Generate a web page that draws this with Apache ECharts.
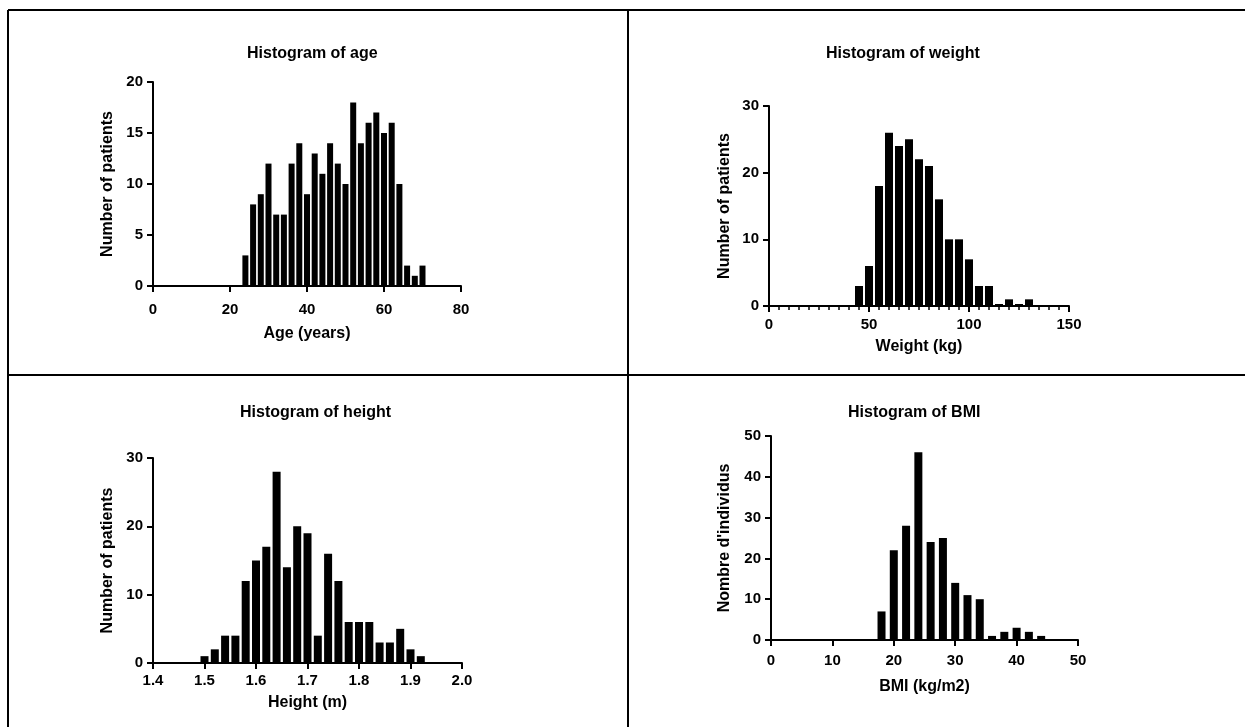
<!DOCTYPE html>
<html>
<head>
<meta charset="utf-8">
<title>Histograms</title>
<script src="https://cdn.jsdelivr.net/npm/echarts@6/dist/echarts.min.js"></script>
<style>
  html, body { margin: 0; padding: 0; background: #fff; }
  #chart { width: 1245px; height: 727px; }
</style>
</head>
<body>
<div id="chart"></div>
<script>
// 数据：各直方图的组中值和人数
const ageBins = [24, 26, 28, 30, 32, 34, 36, 38, 40, 42, 44, 46, 48, 50, 52, 54, 56, 58, 60, 62, 64, 66, 68, 70];
const ageCounts = [3, 8, 9, 12, 7, 7, 12, 14, 9, 13, 11, 14, 12, 10, 18, 14, 16, 17, 15, 16, 10, 2, 1, 2];

const weightBins = [45, 50, 55, 60, 65, 70, 75, 80, 85, 90, 95, 100, 105, 110, 115, 120, 125, 130];
const weightCounts = [3, 6, 18, 26, 24, 25, 22, 21, 16, 10, 10, 7, 3, 3, 0, 1, 0, 1];

const heightBins = [1.50, 1.52, 1.54, 1.56, 1.58, 1.60, 1.62, 1.64, 1.66, 1.68, 1.70, 1.72, 1.74, 1.76, 1.78, 1.80, 1.82, 1.84, 1.86, 1.88, 1.90, 1.92];
const heightCounts = [1, 2, 4, 4, 12, 15, 17, 28, 14, 20, 19, 4, 16, 12, 6, 6, 6, 3, 3, 5, 2, 1];

const bmiBins = [18, 20, 22, 24, 26, 28, 30, 32, 34, 36, 38, 40, 42, 44];
const bmiCounts = [7, 22, 28, 46, 24, 25, 14, 11, 10, 1, 2, 3, 2, 1];

const FONT = '"Liberation Sans", Arial, Helvetica, sans-serif';

// 四个面板的配置
const panels = [
  {
    title: 'Histogram of age', titleLeft: 247, titleTop: 46,
    grid: { left: 153, top: 82, width: 308, height: 204 },
    x: { min: 0, max: 80, interval: 20, name: 'Age (years)', nameGap: 40, labelMargin: 16 },
    y: { min: 0, max: 20, interval: 5, name: 'Number of patients', nameGap: 37 },
    bins: ageBins, counts: ageCounts, barWidth: 6
  },
  {
    title: 'Histogram of weight', titleLeft: 826, titleTop: 46,
    grid: { left: 769, top: 106, width: 300, height: 200 },
    x: { min: 0, max: 150, interval: 50, name: 'Weight (kg)', nameGap: 33, labelMargin: 11, minor: true },
    y: { min: 0, max: 30, interval: 10, name: 'Number of patients', nameGap: 36 },
    bins: weightBins, counts: weightCounts, barWidth: 8
  },
  {
    title: 'Histogram of height', titleLeft: 240, titleTop: 405,
    grid: { left: 153, top: 458, width: 309, height: 205 },
    x: { min: 1.4, max: 2.0, interval: 0.1, name: 'Height (m)', nameGap: 32, labelMargin: 10, decimals: 1 },
    y: { min: 0, max: 30, interval: 10, name: 'Number of patients', nameGap: 37 },
    bins: heightBins, counts: heightCounts, barWidth: 8
  },
  {
    title: 'Histogram of BMI', titleLeft: 848, titleTop: 405,
    grid: { left: 771, top: 436, width: 307, height: 204 },
    x: { min: 0, max: 50, interval: 10, name: 'BMI (kg/m2)', nameGap: 39, labelMargin: 13 },
    y: { min: 0, max: 50, interval: 10, name: "Nombre d'individus", nameGap: 38 },
    bins: bmiBins, counts: bmiCounts, barWidth: 8
  }
];

const axisLine = { show: true, lineStyle: { color: '#000', width: 2 } };
const axisTick = { show: true, inside: false, length: 6, lineStyle: { color: '#000', width: 2 } };

const titles = [];
const grids = [];
const xAxes = [];
const yAxes = [];
const series = [];

panels.forEach((p, i) => {
  titles.push({
    text: p.title,
    left: p.titleLeft,
    top: p.titleTop,
    padding: 0,
    textStyle: { fontFamily: FONT, fontSize: 16, fontWeight: 'bold', color: '#000' }
  });

  grids.push(Object.assign({ outerBoundsMode: 'none', containLabel: false }, p.grid));

  xAxes.push({
    type: 'value',
    gridIndex: i,
    min: p.x.min,
    max: p.x.max,
    interval: p.x.interval,
    name: p.x.name,
    nameLocation: 'middle',
    nameGap: p.x.nameGap,
    nameTextStyle: { fontFamily: FONT, fontSize: 16, fontWeight: 'bold', color: '#000', verticalAlign: 'top' },
    axisLine: axisLine,
    axisTick: axisTick,
    minorTick: p.x.minor ? { show: true, splitNumber: 10, length: 4, lineStyle: { color: '#000', width: 1.5 } } : { show: false },
    splitLine: { show: false },
    axisLabel: {
      margin: p.x.labelMargin,
      fontFamily: FONT,
      fontSize: 15,
      fontWeight: 'bold',
      color: '#000',
      formatter: p.x.decimals ? (v => v.toFixed(p.x.decimals)) : null
    }
  });

  yAxes.push({
    type: 'value',
    gridIndex: i,
    min: p.y.min,
    max: p.y.max,
    interval: p.y.interval,
    name: p.y.name,
    nameLocation: 'middle',
    nameGap: p.y.nameGap,
    nameTextStyle: { fontFamily: FONT, fontSize: 16, fontWeight: 'bold', color: '#000' },
    axisLine: axisLine,
    axisTick: axisTick,
    splitLine: { show: false },
    axisLabel: {
      margin: 10,
      fontFamily: FONT,
      fontSize: 15,
      fontWeight: 'bold',
      color: '#000'
    }
  });

  series.push({
    type: 'bar',
    xAxisIndex: i,
    yAxisIndex: i,
    data: p.bins.map((b, k) => [b, p.counts[k]]),
    barWidth: p.barWidth,
    barMinHeight: 2,
    itemStyle: { color: '#000' },
    silent: true,
    animation: false
  });
});

// 表格边框
const frameStyle = { stroke: '#000', lineWidth: 2 };
const frame = [
  { type: 'line', shape: { x1: 8, y1: 10, x2: 1245, y2: 10 }, style: frameStyle },
  { type: 'line', shape: { x1: 8, y1: 10, x2: 8, y2: 727 }, style: frameStyle },
  { type: 'line', shape: { x1: 628, y1: 10, x2: 628, y2: 727 }, style: frameStyle },
  { type: 'line', shape: { x1: 8, y1: 375, x2: 1245, y2: 375 }, style: frameStyle }
];

const chart = echarts.init(document.getElementById('chart'), null, { renderer: 'canvas' });
chart.setOption({
  backgroundColor: '#fff',
  animation: false,
  title: titles,
  grid: grids,
  xAxis: xAxes,
  yAxis: yAxes,
  series: series,
  graphic: frame
});
</script>
</body>
</html>
